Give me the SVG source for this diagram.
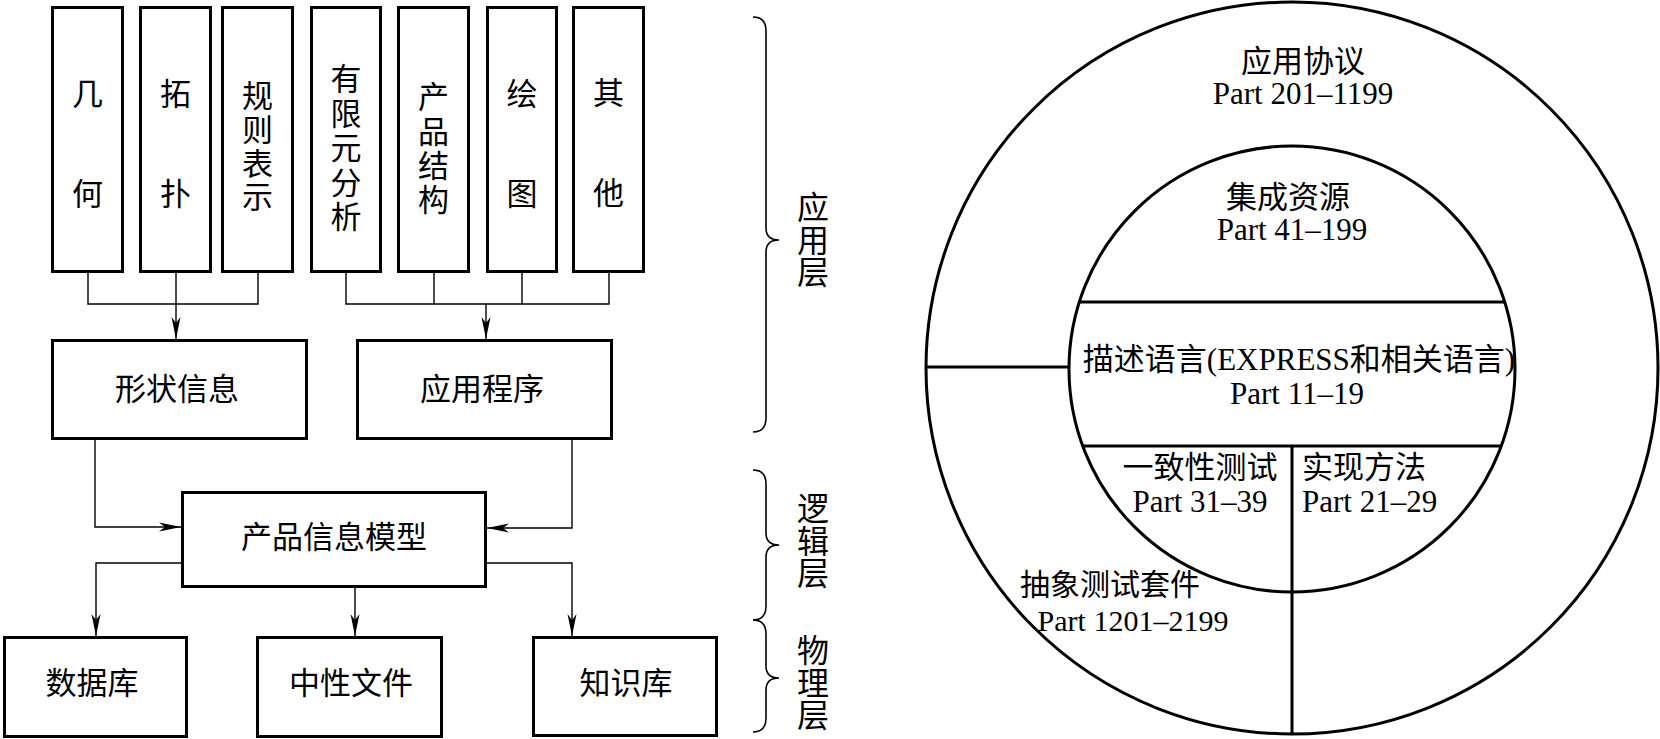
<svg xmlns="http://www.w3.org/2000/svg" width="1660" height="739" viewBox="0 0 1660 739">
<defs>
<style>
.box{fill:#fff;stroke:#000;stroke-width:3}
.conn{fill:none;stroke:#000;stroke-width:1.4}
.arr{marker-end:url(#ah)}
.cjk{font-family:"Noto Sans CJK SC",sans-serif;font-size:31px;fill:#000}
.vt{font-family:"Noto Sans CJK SC",sans-serif;font-size:31px;fill:#000;writing-mode:vertical-rl}
.lay{font-family:"Noto Sans CJK SC",sans-serif;font-size:32px;fill:#000;writing-mode:vertical-rl;letter-spacing:0.5px}
.mix{font-family:"Liberation Serif","Noto Sans CJK SC",serif;font-size:31px;fill:#000}
.sm{font-size:30px}
.ring{fill:none;stroke:#000;stroke-width:3}
.brace{fill:none;stroke:#000;stroke-width:1.6}
</style>
<marker id="ah" markerUnits="userSpaceOnUse" markerWidth="24" markerHeight="10" refX="22" refY="5" orient="auto">
<path d="M0,0.5 L22,5 L0,9.5 L6,5 Z" fill="#000"/>
</marker>
</defs>
<rect x="0" y="0" width="1660" height="739" fill="#fff"/>

<g id="connectors">
<path class="conn" d="M88,273 V304 H258 V273"/>
<path class="conn arr" d="M176,273 V339"/>
<path class="conn" d="M346,273 V304 H609 V273 M434,273 V304 M522,273 V304"/>
<path class="conn arr" d="M486,304 V339"/>
<path class="conn arr" d="M95,440 V527 H181"/>
<path class="conn arr" d="M572,440 V528 H487"/>
<path class="conn arr" d="M181,563 H96 V636"/>
<path class="conn arr" d="M355,588 V636"/>
<path class="conn arr" d="M487,563 H572 V636"/>
</g>

<g id="n-jihe"><rect class="box" x="52.5" y="7.5" width="70" height="264"/>
<text class="vt" x="87.5" y="78" letter-spacing="69">几何</text></g>
<g id="n-tuopu"><rect class="box" x="140.5" y="7.5" width="70" height="264"/>
<text class="vt" x="175.5" y="78" letter-spacing="69">拓扑</text></g>
<g id="n-guize"><rect class="box" x="222.5" y="7.5" width="70" height="264"/>
<text class="vt" x="257.5" y="80" letter-spacing="2.7">规则表示</text></g>
<g id="n-youxian"><rect class="box" x="311.5" y="7.5" width="69" height="264"/>
<text class="vt" x="346" y="63" letter-spacing="3.5">有限元分析</text></g>
<g id="n-chanpin"><rect class="box" x="398.5" y="7.5" width="70" height="264"/>
<text class="vt" x="433.5" y="81" letter-spacing="3.3">产品结构</text></g>
<g id="n-huitu"><rect class="box" x="487.5" y="7.5" width="69" height="264"/>
<text class="vt" x="522" y="78" letter-spacing="69">绘图</text></g>
<g id="n-qita"><rect class="box" x="573.5" y="7.5" width="70" height="264"/>
<text class="vt" x="608.5" y="77" letter-spacing="69">其他</text></g>

<g id="n-xingzhuang"><rect class="box" x="52.5" y="340.5" width="254" height="98"/>
<text class="cjk" text-anchor="middle" x="177" y="400">形状信息</text></g>
<g id="n-yingyong"><rect class="box" x="357.5" y="340.5" width="254" height="98"/>
<text class="cjk" text-anchor="middle" x="482" y="400">应用程序</text></g>
<g id="n-pim"><rect class="box" x="182.5" y="492.5" width="303" height="94"/>
<text class="cjk" text-anchor="middle" x="334" y="548">产品信息模型</text></g>
<g id="n-db"><rect class="box" x="4.5" y="637.5" width="182" height="99"/>
<text class="cjk" text-anchor="middle" x="92" y="694">数据库</text></g>
<g id="n-neutral"><rect class="box" x="257.5" y="637.5" width="184" height="99"/>
<text class="cjk" text-anchor="middle" x="351" y="694">中性文件</text></g>
<g id="n-kb"><rect class="box" x="533.5" y="637.5" width="183" height="98"/>
<text class="cjk" text-anchor="middle" x="626" y="694">知识库</text></g>

<g id="layers">
<path class="brace" d="M753,17 Q766,17 766,31 L766,228 Q766,240 779,240 Q766,240 766,252 L766,418 Q766,432 753,432"/>
<path class="brace" d="M753,470 Q766,470 766,484 L766,533 Q766,545 779,545 Q766,545 766,557 L766,606 Q766,620 753,620"/>
<path class="brace" d="M753,620 Q766,620 766,634 L766,666 Q766,678 779,678 Q766,678 766,690 L766,718 Q766,732 753,732"/>
<text class="lay" x="813" y="191">应用层</text>
<text class="lay" x="813" y="492">逻辑层</text>
<text class="lay" x="813" y="634">物理层</text>
</g>

<g id="step-rings">
<circle class="ring" cx="1292" cy="368" r="366"/>
<circle class="ring" cx="1292" cy="369" r="223"/>
<line class="ring" x1="1079" y1="302" x2="1505" y2="302"/>
<line class="ring" x1="1083" y1="446" x2="1501" y2="446"/>
<line class="ring" x1="926" y1="367" x2="1069" y2="367"/>
<line class="ring" x1="1292" y1="446" x2="1292" y2="734"/>
</g>

<g id="step-labels">
<text class="mix" text-anchor="middle"><tspan x="1303" y="72">应用协议</tspan><tspan x="1303" y="104">Part 201–1199</tspan></text>
<text class="mix" text-anchor="middle"><tspan x="1288" y="208">集成资源</tspan><tspan x="1292" y="240">Part 41–199</tspan></text>
<text class="mix" text-anchor="middle"><tspan x="1299" y="370">描述语言(EXPRESS和相关语言)</tspan><tspan x="1297" y="404">Part 11–19</tspan></text>
<text class="mix" text-anchor="middle"><tspan x="1200" y="478">一致性测试</tspan><tspan x="1200" y="512">Part 31–39</tspan></text>
<text class="mix"><tspan x="1302" y="478">实现方法</tspan><tspan x="1302" y="512">Part 21–29</tspan></text>
<text class="mix sm" text-anchor="middle"><tspan x="1110" y="595">抽象测试套件</tspan><tspan x="1133" y="631">Part 1201–2199</tspan></text>
</g>
</svg>
